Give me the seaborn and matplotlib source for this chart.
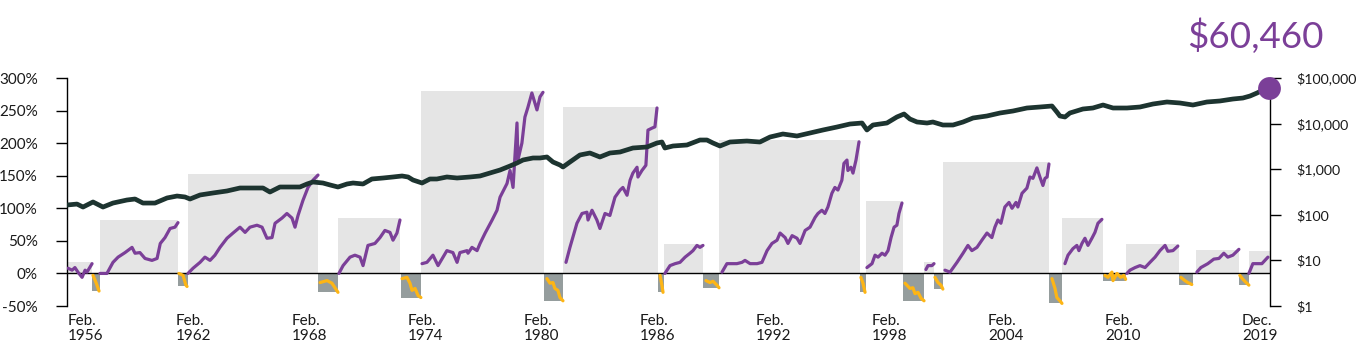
import matplotlib
matplotlib.use("Agg")
import matplotlib.pyplot as plt
import seaborn as sns
import pandas as pd

# ---------------- data ----------------
# growth of the index (right, log axis)
growth_years = [1956.08, 1956.61, 1956.93, 1957.46, 1957.99, 1958.52, 1959.26, 1959.69, 1960.11, 1960.75,
                1961.39, 1961.92, 1962.34, 1962.61, 1963.14, 1963.83, 1964.57, 1965.26, 1965.95, 1966.48,
                1966.85, 1967.38, 1968.07, 1968.44, 1968.82, 1969.13, 1969.66, 1970.04, 1970.46, 1970.94,
                1971.26, 1971.79, 1972.26, 1972.85, 1973.38, 1973.86, 1974.18, 1974.44, 1974.92, 1975.34,
                1975.71, 1976.24, 1976.78, 1977.47, 1978.00, 1978.53, 1979.06, 1979.59, 1979.96, 1980.28,
                1980.81, 1981.18, 1981.55, 1981.87, 1982.24, 1982.40, 1982.77, 1983.30, 1983.83, 1984.36,
                1984.89, 1985.43, 1986.11, 1986.86, 1987.39, 1987.65, 1987.81, 1988.24, 1988.98, 1989.67,
                1990.04, 1990.36, 1990.73, 1991.26, 1992.16, 1992.85, 1993.39, 1994.07, 1994.82, 1995.51,
                1996.20, 1996.94, 1997.63, 1998.27, 1998.53, 1998.85, 1999.59, 2000.12, 2000.50, 2000.81,
                2001.19, 2001.72, 2002.03, 2002.56, 2003.10, 2003.63, 2004.16, 2004.90, 2005.59, 2006.28,
                2007.02, 2007.71, 2008.35, 2008.61, 2008.77, 2009.04, 2009.30, 2009.99, 2010.52, 2011.06,
                2011.59, 2012.33, 2013.02, 2013.71, 2014.45, 2015.14, 2015.83, 2016.57, 2017.26, 2017.95,
                2018.48, 2018.86, 2019.23, 2019.55, 2019.86]
growth_values = [164, 172, 148, 191, 148, 181, 211, 222, 181, 181,
                 234, 258, 246, 222, 272, 301, 333, 387, 387, 387,
                 316, 407, 407, 407, 474, 524, 498, 451, 407, 474,
                 498, 474, 610, 641, 675, 710, 675, 580, 498, 610,
                 610, 675, 641, 675, 710, 826, 960, 1175, 1368, 1592,
                 1762, 1762, 1853, 1438, 1236, 1117, 1438, 2049, 2265, 1853,
                 2265, 2383, 2917, 3069, 3756, 3948, 2917, 3228, 3396, 4366,
                 4366, 3756, 3228, 3948, 4150, 3948, 5083, 5916, 5346, 6222,
                 7244, 8414, 9795, 10300, 7244, 9316, 10300, 13960, 16250, 12620,
                 10840, 10300, 10840, 9316, 9316, 10840, 13270, 14690, 17070, 18880,
                 21980, 23120, 24320, 17960, 14690, 13960, 17070, 20890, 21980, 25580,
                 21980, 21980, 23120, 26900, 29780, 28310, 25580, 29780, 31330, 34610,
                 36390, 40270, 46880, 54570, 60460]
final_value_label = "$60,460"

# market periods (boxes)
bull_start = [1956.08, 1957.83, 1962.50, 1970.46, 1974.86, 1982.40, 1987.76, 1990.68, 1998.48, 2001.56,
              2002.56, 2008.88, 2012.28, 2015.99, 2018.80]
bull_end = [1957.41, 1961.97, 1969.40, 1973.75, 1981.39, 1987.44, 1989.83, 1998.16, 2000.44, 2002.09,
            2008.19, 2011.06, 2015.09, 2018.27, 2019.92]
bull_gain = [17, 82, 152, 85, 280, 255, 45, 205, 111, 17, 171, 85, 45, 36, 35]

bear_start = [1957.41, 1961.97, 1969.42, 1973.78, 1981.39, 1987.44, 1989.83, 1998.16, 2000.44, 2002.09,
              2008.19, 2011.06, 2015.09, 2018.27]
bear_end = [1957.83, 1962.50, 1970.46, 1974.86, 1982.40, 1987.76, 1990.68, 1998.48, 2001.56, 2002.56,
            2008.88, 2012.28, 2015.83, 2018.80]
bear_loss = [-27, -20, -29, -37, -42, -29, -22, -29, -42, -24, -46, -11, -18, -18]

# cumulative returns inside each bull market
bull_years = [
    [1956.13, 1956.35, 1956.50, 1956.66, 1956.88, 1957.04, 1957.14, 1957.41],
    [1957.83, 1958.20, 1958.52, 1958.79, 1959.16, 1959.53, 1959.69, 1959.95, 1960.22, 1960.59, 1960.86,
     1961.03, 1961.28, 1961.55, 1961.81, 1961.97],
    [1962.50, 1962.77, 1963.14, 1963.40, 1963.67, 1963.93, 1964.20, 1964.57, 1964.89, 1965.26, 1965.53,
     1965.79, 1966.16, 1966.43, 1966.69, 1966.96, 1967.12, 1967.49, 1967.75, 1968.02, 1968.18, 1968.34,
     1968.60, 1968.87, 1969.13, 1969.40],
    [1970.51, 1970.73, 1971.10, 1971.36, 1971.63, 1971.79, 1972.05, 1972.42, 1972.69, 1972.95, 1973.22,
     1973.38, 1973.59, 1973.75],
    [1974.92, 1975.18, 1975.50, 1975.77, 1976.24, 1976.56, 1976.78, 1976.93, 1977.31, 1977.36, 1977.57,
     1977.84, 1978.00, 1978.27, 1978.64, 1978.90, 1979.06, 1979.43, 1979.59, 1979.75, 1979.96, 1980.01,
     1980.22, 1980.38, 1980.54, 1980.75, 1981.02, 1981.18, 1981.34],
    [1982.56, 1982.77, 1983.14, 1983.41, 1983.67, 1983.73, 1983.94, 1984.20, 1984.36, 1984.63, 1984.89,
     1985.16, 1985.43, 1985.58, 1985.80, 1985.96, 1986.11, 1986.33, 1986.38, 1986.59, 1986.80, 1986.91,
     1987.12, 1987.28, 1987.39],
    [1987.81, 1988.08, 1988.35, 1988.61, 1988.88, 1989.14, 1989.30, 1989.51, 1989.67, 1989.83],
    [1990.84, 1991.10, 1991.37, 1991.63, 1991.90, 1992.06, 1992.33, 1992.70, 1992.96, 1993.23, 1993.49,
     1993.76, 1993.92, 1994.19, 1994.34, 1994.56, 1994.82, 1994.98, 1995.25, 1995.51, 1995.78, 1995.93,
     1996.14, 1996.30, 1996.46, 1996.67, 1996.83, 1996.99, 1997.20, 1997.31, 1997.47, 1997.52, 1997.68,
     1997.79, 1997.95, 1998.11],
    [1998.53, 1998.80, 1998.96, 1999.12, 1999.33, 1999.49, 1999.65, 1999.81, 1999.97, 2000.12, 2000.23,
     2000.39],
    [2001.66, 2001.77, 2001.98, 2002.09],
    [2002.67, 2002.94, 2003.31, 2003.63, 2003.89, 2004.10, 2004.37, 2004.63, 2004.90, 2005.16, 2005.32,
     2005.48, 2005.64, 2005.85, 2006.07, 2006.23, 2006.44, 2006.54, 2006.76, 2007.02, 2007.18, 2007.34,
     2007.55, 2007.71, 2007.87, 2007.98, 2008.09, 2008.19],
    [2009.04, 2009.20, 2009.46, 2009.67, 2009.78, 2009.94, 2010.10, 2010.26, 2010.47, 2010.63, 2010.79,
     2011.00],
    [2012.33, 2012.49, 2012.76, 2013.02, 2013.29, 2013.55, 2013.82, 2014.08, 2014.35, 2014.50, 2014.77,
     2015.03],
    [2016.04, 2016.25, 2016.62, 2016.94, 2017.21, 2017.47, 2017.68, 2017.95, 2018.27],
    [2018.80, 2019.01, 2019.23, 2019.49, 2019.65, 2019.81],
]
bull_returns = [
    [8, 5, 9, 2, -6, 5, 2, 15],
    [0, 0, 17, 25, 32, 40, 31, 32, 23, 20, 23, 46, 55, 69, 71, 78],
    [0, 8, 17, 25, 20, 28, 40, 54, 62, 71, 63, 71, 74, 71, 54, 55, 77, 85, 92, 85, 71, 89, 112, 132,
     143, 151],
    [0, 12, 25, 28, 25, 12, 43, 46, 55, 66, 63, 51, 62, 82],
    [15, 17, 28, 12, 35, 32, 17, 32, 35, 31, 40, 35, 46, 62, 82, 97, 117, 138, 158, 132, 231, 174, 200,
     240, 255, 277, 251, 271, 278],
    [17, 40, 77, 92, 94, 82, 97, 82, 69, 92, 89, 117, 128, 132, 120, 143, 154, 163, 148, 158, 166, 220,
     223, 225, 254],
    [0, 12, 15, 17, 25, 31, 35, 43, 40, 43],
    [2, 15, 15, 15, 17, 20, 15, 15, 17, 35, 46, 51, 62, 55, 46, 58, 54, 46, 66, 71, 86, 92, 97, 92, 102,
     123, 132, 128, 143, 169, 174, 158, 163, 154, 174, 202],
    [9, 15, 28, 25, 31, 28, 35, 55, 71, 74, 92, 108],
    [6, 12, 12, 15],
    [5, 2, 17, 31, 43, 35, 40, 51, 62, 55, 71, 82, 77, 102, 109, 100, 109, 102, 123, 131, 148, 146, 162,
     148, 135, 146, 148, 168],
    [15, 28, 38, 43, 35, 46, 54, 43, 54, 63, 77, 83],
    [0, 5, 9, 12, 9, 17, 25, 35, 43, 34, 35, 42],
    [2, 9, 15, 22, 23, 31, 25, 28, 37],
    [0, 15, 15, 15, 20, 25],
]

# declines inside each bear market
bear_years = [
    [1957.46, 1957.62, 1957.67, 1957.78],
    [1962.02, 1962.24, 1962.39, 1962.45],
    [1969.51, 1969.88, 1970.14, 1970.46],
    [1973.86, 1974.12, 1974.28, 1974.39, 1974.55, 1974.71, 1974.86],
    [1981.55, 1981.71, 1981.87, 1981.97, 1982.13, 1982.24, 1982.40],
    [1987.55, 1987.65, 1987.71],
    [1989.99, 1990.20, 1990.36, 1990.57, 1990.68],
    [1998.21, 1998.32, 1998.43],
    [2000.55, 2000.81, 2000.97, 2001.08, 2001.24, 2001.40, 2001.56],
    [2002.14, 2002.30, 2002.46, 2002.56],
    [2008.35, 2008.51, 2008.61, 2008.77, 2008.88],
    [2011.16, 2011.32, 2011.53, 2011.59, 2011.80, 2012.00, 2012.16, 2012.26],
    [2015.19, 2015.40, 2015.56, 2015.77],
    [2018.32, 2018.48, 2018.69, 2018.80],
]
bear_returns = [
    [-3, -14, -18, -27],
    [0, -3, -18, -20],
    [-14, -11, -15, -29],
    [-8, -6, -15, -26, -23, -34, -37],
    [-8, -15, -14, -23, -26, -37, -42],
    [-3, -18, -29],
    [-11, -14, -12, -18, -22],
    [-6, -15, -29],
    [-15, -23, -22, -31, -29, -38, -42],
    [-6, -14, -18, -24],
    [-8, -23, -37, -42, -46],
    [-3, -6, 2, -11, 0, -6, -3, -9],
    [-6, -11, -14, -17],
    [-3, -9, -15, -18],
]

# axis ticks
x_tick_years = [1956.13, 1961.86, 1968.02, 1974.18, 1980.33, 1986.49, 1992.64, 1998.80, 2004.95, 2011.16, 2018.43]
x_tick_labels = ["Feb.\n1956", "Feb.\n1962", "Feb.\n1968", "Feb.\n1974", "Feb.\n1980", "Feb.\n1986",
                 "Feb.\n1992", "Feb.\n1998", "Feb.\n2004", "Feb.\n2010", "Dec.\n2019"]
pct_ticks = [-50, 0, 50, 100, 150, 200, 250, 300]
pct_labels = ["-50%", "0%", "50%", "100%", "150%", "200%", "250%", "300%"]
dollar_ticks = [1, 10, 100, 1000, 10000, 100000]
dollar_labels = ["$1", "$10", "$100", "$1,000", "$10,000", "$100,000"]
x_range = [1956.08, 2019.92]

# ---------------- style ----------------
PURPLE = "#7b3f98"
YELLOW = "#fdb515"
DARK = "#1d3430"
BULL_BOX = "#e5e5e5"
BEAR_BOX = "#959d9d"
TEXT = "#1a1a1a"

sns.set_theme(style="white")
plt.rcParams["font.family"] = ["Lato", "DejaVu Sans"]

W, H = 1362, 346
fig = plt.figure(figsize=(W / 100, H / 100), dpi=100)
ax = fig.add_axes([67 / W, 1 - 306 / H, (1270 - 67) / W, (306 - 78) / H])
ax2 = ax.twinx()

# boxes
bull_df = pd.DataFrame({"start": bull_start, "end": bull_end, "gain": bull_gain})
bear_df = pd.DataFrame({"start": bear_start, "end": bear_end, "loss": bear_loss})
ax.bar(bull_df["start"], bull_df["gain"], width=bull_df["end"] - bull_df["start"], align="edge",
       color=BULL_BOX, linewidth=0, zorder=1)
ax.bar(bear_df["start"], bear_df["loss"], width=bear_df["end"] - bear_df["start"], align="edge",
       color=BEAR_BOX, linewidth=0, zorder=1)

ax.axhline(0, color="black", lw=1.0, zorder=2)

for xs, ys in zip(bull_years, bull_returns):
    sns.lineplot(x=xs, y=ys, ax=ax, color=PURPLE, lw=2.3, estimator=None, sort=False, zorder=3)
for xs, ys in zip(bear_years, bear_returns):
    sns.lineplot(x=xs, y=ys, ax=ax, color=YELLOW, lw=2.3, estimator=None, sort=False, zorder=3)

sns.lineplot(x=growth_years, y=growth_values, ax=ax2, color=DARK, lw=3.4, estimator=None, sort=False,
             zorder=4)
ax2.scatter([growth_years[-1]], [growth_values[-1]], s=270, color=PURPLE, zorder=6, clip_on=False,
            linewidths=0)

# axes
ax.set_xlim(*x_range)
ax.set_ylim(-50, 300)
ax2.set_yscale("log")
ax2.set_ylim(1, 100000)
ax2.set_xlim(*x_range)

ax.set_yticks(pct_ticks)
ax.set_yticklabels(pct_labels)
ax2.set_yticks(dollar_ticks)
ax2.set_yticklabels(dollar_labels)
ax2.minorticks_off()
ax.set_xticks(x_tick_years)
ax.set_xticklabels(x_tick_labels, ha="left", linespacing=1.05)

for a in (ax, ax2):
    for s in a.spines.values():
        s.set_visible(False)
    a.set_xlabel("")
    a.set_ylabel("")
    a.grid(False)
ax.spines["left"].set_visible(True)
ax.spines["left"].set_color("black")
ax.spines["left"].set_linewidth(1.0)
ax2.spines["right"].set_visible(True)
ax2.spines["right"].set_color("black")
ax2.spines["right"].set_linewidth(1.0)
ax.patch.set_visible(False)

ax.tick_params(axis="y", which="both", left=True, length=8, width=1.0, color="black", pad=13,
               labelsize=11, labelcolor=TEXT)
ax.tick_params(axis="x", bottom=True, length=0, pad=6, labelsize=11, labelcolor=TEXT)
ax2.tick_params(axis="y", which="both", right=True, length=8, width=1.0, color="black", pad=11,
                labelsize=10.2, labelcolor=TEXT)

fig.text(1255 / W, 1 - 48 / H, final_value_label, color=PURPLE, fontsize=26.5, ha="center",
         va="baseline")

fig.savefig("out.png", dpi=100)
